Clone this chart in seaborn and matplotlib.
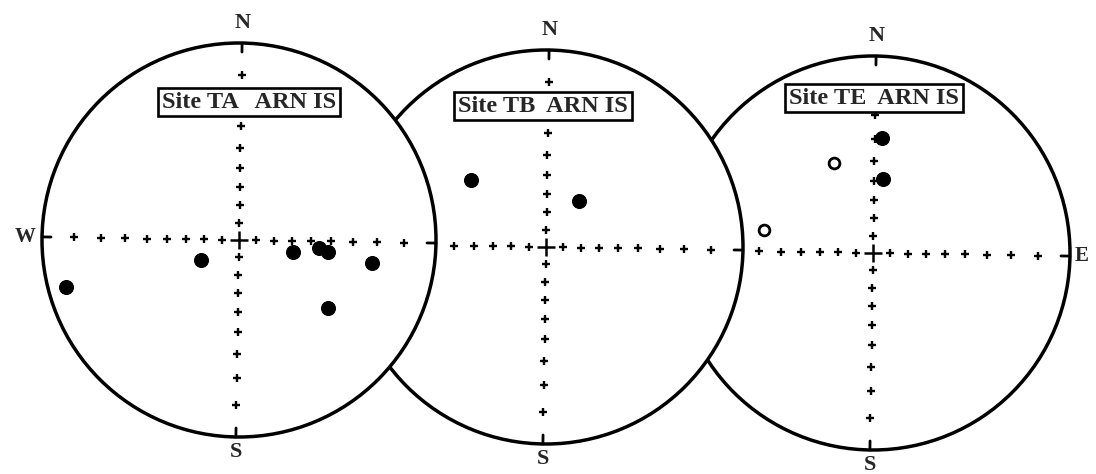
import numpy as np
import matplotlib
matplotlib.use("Agg")
import matplotlib.pyplot as plt
import seaborn as sns
from matplotlib.patches import Circle

# Palaeomagnetic directions (declination, inclination in degrees)
# negative inclination = upper hemisphere (open symbol)
ta_dec = [254, 241, 102, 95, 97, 99, 126.5]
ta_inc = [5.5, 65.5, 58.5, 45.5, 41, 21, 31]

tb_dec = [311, 35]
tb_inc = [36, 58]

te_dec = [3.5, 6.5, 335.5, 281]
te_inc = [29.5, 48.5, -37, -31]

site_names = ["Site TA   ARN IS", "Site TB  ARN IS", "Site TE  ARN IS"]
grid_incs = [10, 20, 30, 40, 50, 60, 70, 80]

# layout of the three nets in pixel space
R = 197
ROT = 0.9  # the scanned page is slightly rotated
centers = [(239, 240), (546, 247), (873, 253)]
box_offsets = [(10, -138), (-3, -141), (1, -155)]
zbase = [20, 10, 0]  # left net sits on top of the middle one, etc.


def project(dec, inc, cx, cy, r=None):
    dec = np.asarray(dec, dtype=float)
    inc = np.asarray(inc, dtype=float)
    if r is None:
        r = R * np.tan(np.radians(90 - np.abs(inc)) / 2)  # Wulff net
    a = np.radians(dec + ROT)
    return cx + r * np.sin(a), cy - r * np.cos(a)


sns.set_style("white")
plt.rcParams["font.family"] = ["Liberation Serif", "DejaVu Serif"]
plt.rcParams["font.weight"] = "bold"

fig = plt.figure(figsize=(10.96, 4.74), dpi=100)
ax = fig.add_axes([0, 0, 1, 1])
ax.set_xlim(0, 1096)
ax.set_ylim(474, 0)
ax.set_aspect("equal")
ax.axis("off")

sites = [(ta_dec, ta_inc), (tb_dec, tb_inc), (te_dec, te_inc)]

for i, ((dec, inc), (cx, cy)) in enumerate(zip(sites, centers)):
    z = zbase[i]
    ax.add_patch(Circle((cx, cy), R, facecolor="white", edgecolor="black",
                        linewidth=2.5, zorder=z))

    # small crosses every 10 degrees along the N-S and E-W axes
    gx, gy = [], []
    for d in [0, 90, 180, 270]:
        px, py = project([d] * len(grid_incs), grid_incs, cx, cy)
        gx.extend(px)
        gy.extend(py)
    sns.scatterplot(x=gx, y=gy, ax=ax, marker="+", s=38, color="black",
                    linewidth=1.7, zorder=z + 1, legend=False)
    sns.scatterplot(x=[cx], y=[cy], ax=ax, marker="+", s=170, color="black",
                    linewidth=1.8, zorder=z + 1, legend=False)

    # cardinal ticks on the primitive
    for d in [0, 90, 180, 270]:
        x0, y0 = project(d, 0, cx, cy, r=R)
        x1, y1 = project(d, 0, cx, cy, r=R - 9)
        ax.plot([x0, x1], [y0, y1], color="black", lw=2.0, zorder=z + 1)

    # data points
    dec = np.asarray(dec)
    inc = np.asarray(inc)
    px, py = project(dec, inc, cx, cy)
    down = inc >= 0
    sns.scatterplot(x=px[down], y=py[down], ax=ax, marker="o", s=100,
                    color="black", edgecolor="black", zorder=z + 2, legend=False)
    if (~down).any():
        ax.scatter(px[~down], py[~down], marker="o", s=60, facecolors="white",
                   edgecolors="black", linewidths=2.0, zorder=z + 2)

    # site label box
    bx, by = box_offsets[i]
    ax.text(cx + bx, cy + by, site_names[i], ha="center", va="center",
            fontsize=17.5, fontweight="bold", zorder=z + 3,
            bbox=dict(boxstyle="square,pad=0.16", facecolor="white",
                      edgecolor="black", linewidth=1.9))

    # N and S labels
    nx, ny = project(0, 0, cx, cy, r=R + 20)
    sx, sy = project(180, 0, cx, cy, r=R + 15)
    ax.text(nx, ny, "N", ha="center", va="center", fontsize=16,
            fontweight="bold", zorder=30)
    ax.text(sx, sy, "S", ha="center", va="center", fontsize=16,
            fontweight="bold", zorder=30)

wx, wy = project(270, 0, *centers[0], r=R + 17)
ax.text(wx, wy, "W", ha="center", va="center", fontsize=15,
        fontweight="bold", zorder=30)
ex, ey = project(90, 0, *centers[2], r=R + 12)
ax.text(ex, ey, "E", ha="center", va="center", fontsize=15,
        fontweight="bold", zorder=30)

fig.savefig("out.png", dpi=100)
